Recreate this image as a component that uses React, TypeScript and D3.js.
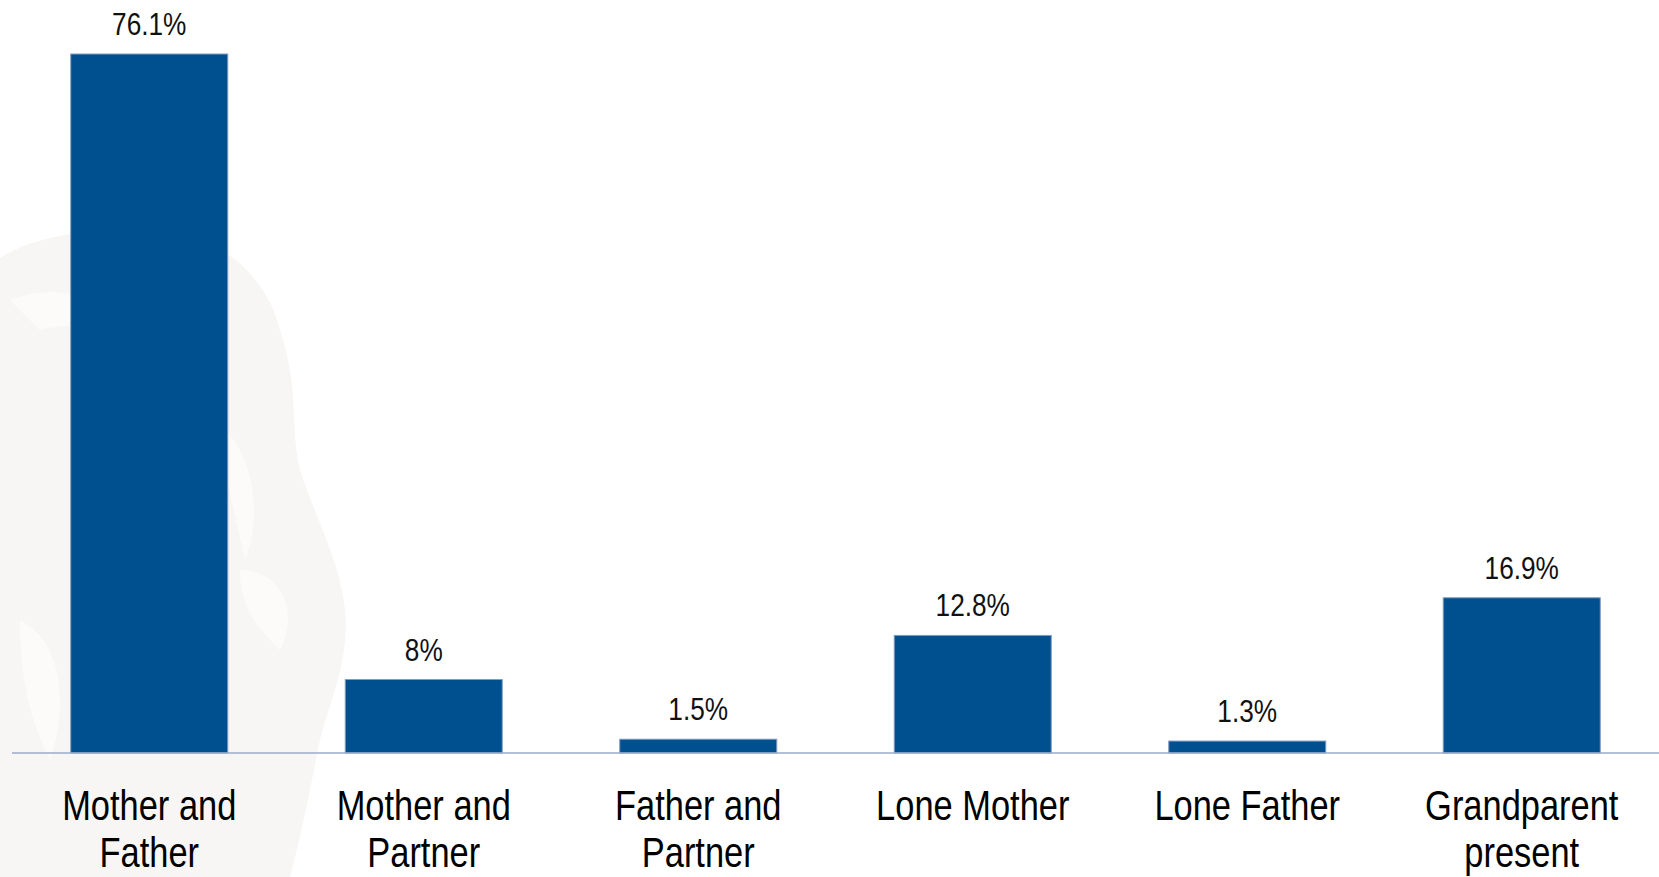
import React from 'react';
import * as d3 from 'd3';

const width = 1659;
const height = 877;
const margin = { top: 54, right: 0, bottom: 124, left: 12 };

const categories = [
  ['Mother and', 'Father'],
  ['Mother and', 'Partner'],
  ['Father and', 'Partner'],
  ['Lone Mother'],
  ['Lone Father'],
  ['Grandparent', 'present'],
];
const values = [76.1, 8, 1.5, 12.8, 1.3, 16.9];

const barColor = '#00508f';
const font = '"Liberation Sans", Arial, sans-serif';
// no narrow face installed, so squeeze the regular one
const squeeze = 0.82;

// faint logo in the background, drawn loosely
const watermark = 'M0,258 C40,232 120,222 190,238 C240,250 270,290 280,330 C300,390 290,430 300,470 C316,520 340,560 345,610 C350,660 330,700 320,740 C310,790 300,840 290,877 L0,877 Z';
const swirls = [
  'M10,300 C60,280 120,300 140,340 C120,330 80,320 40,330 Z',
  'M225,430 C255,460 262,520 245,560 C236,520 228,480 218,450 Z',
  'M240,570 C280,570 300,610 280,650 C260,630 240,610 240,570 Z',
  'M20,620 C60,640 70,700 50,760 C30,720 20,680 20,620 Z',
];

const App: React.FC = () => {
  const x = d3
    .scaleBand<number>()
    .domain(d3.range(values.length))
    .range([margin.left, width - margin.right])
    .paddingInner(0.428)
    .paddingOuter(0.214);

  const y = d3
    .scaleLinear()
    .domain([0, 76.1])
    .range([height - margin.bottom, margin.top]);

  const base = y(0);
  const cx = (i: number) => (x(i) as number) + x.bandwidth() / 2;

  return (
    <svg width={width} height={height} style={{ position: 'absolute', left: 0, top: 0, background: '#fff' }}>
      <g>
        <path d={watermark} fill="#f7f6f4" />
        {swirls.map((d, i) => <path key={i} d={d} fill="#fcfbfa" />)}
      </g>
      {values.map((v, i) => (
        <g key={i}>
          <rect
            x={x(i)}
            y={y(v)}
            width={x.bandwidth()}
            height={base - y(v)}
            fill={barColor}
            stroke="#7f9cc2"
            strokeWidth={1}
          />
          <text
            transform={`translate(${cx(i)},${y(v) - 19}) scale(${squeeze},1)`}
            textAnchor="middle"
            fontFamily={font}
            fontSize={32}
            fill="#111"
          >
            {v + '%'}
          </text>
        </g>
      ))}
      {/* baseline */}
      <line x1={margin.left} x2={width} y1={base} y2={base} stroke="#9aabc8" strokeWidth={1.5} />
      {categories.map((lines, i) => (
        <text
          key={i}
          transform={`translate(${cx(i)},${base + 67}) scale(${squeeze},1)`}
          textAnchor="middle"
          fontFamily={font}
          fontSize={42}
          fill="#000"
        >
          {lines.map((t, j) => (
            <tspan key={j} x={0} dy={j === 0 ? 0 : 47}>{t}</tspan>
          ))}
        </text>
      ))}
    </svg>
  );
};

export default App;
